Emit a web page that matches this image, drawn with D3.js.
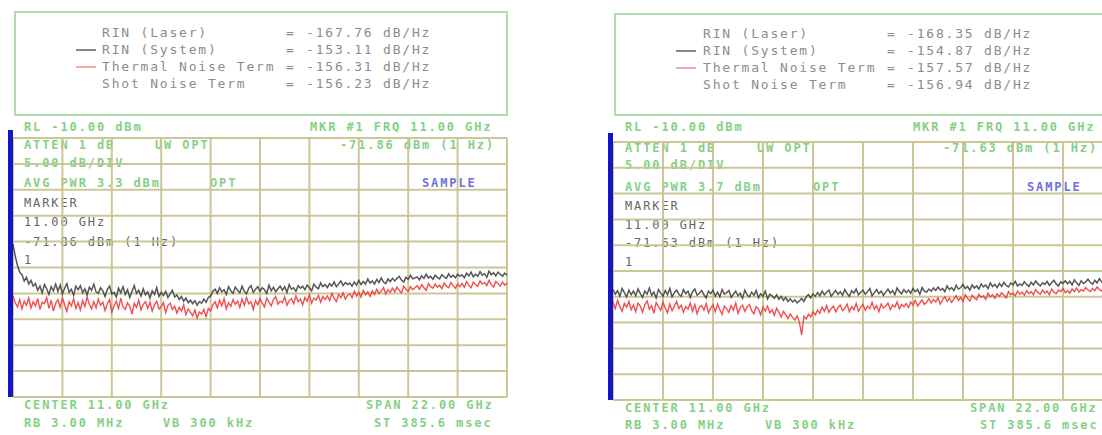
<!DOCTYPE html>
<html><head><meta charset="utf-8">
<script src="https://cdn.jsdelivr.net/npm/d3@7"></script>
<style>
html,body{margin:0;padding:0;background:#fff;}
svg{display:block;}
text{font-family:"DejaVu Sans Mono","Liberation Mono",monospace;}
</style></head>
<body>
<script>
// ---------- DATA ----------
const sweepStartGHz = 0, sweepStepGHz = 0.1;   // 221 sweep points, 0..22 GHz
const refLevel = -10, dbPerDiv = 5, divisions = 10;
const spanGHz = 22;

const legendLabels = ["RIN (Laser)", "RIN (System)", "Thermal Noise Term", "Shot Noise Term"];
const legendValuesA = ["-167.76", "-153.11", "-156.31", "-156.23"];
const legendValuesB = ["-168.35", "-154.87", "-157.57", "-156.94"];
const legendUnit = "dB/Hz";

const headerA = ["RL -10.00 dBm", "MKR #1 FRQ 11.00 GHz", "ATTEN 1 dB", "UW OPT", "-71.86 dBm (1 Hz)", "5.00 dB/DIV", "AVG PWR 3.3 dBm", "OPT", "SAMPLE"];
const headerB = ["RL -10.00 dBm", "MKR #1 FRQ 11.00 GHz", "ATTEN 1 dB", "UW OPT", "-71.63 dBm (1 Hz)", "5.00 dB/DIV", "AVG PWR 3.7 dBm", "OPT", "SAMPLE"];
const markerA = ["MARKER", "11.00 GHz", "-71.86 dBm (1 Hz)", "1"];
const markerB = ["MARKER", "11.00 GHz", "-71.63 dBm (1 Hz)", "1"];
const footer = ["CENTER 11.00 GHz", "SPAN 22.00 GHz", "RB 3.00 MHz", "VB 300 kHz", "ST 385.6 msec"];

// Left panel: system RIN trace (dark) and thermal noise trace (red), dBm
const sysA = [
-30.5,-32.8,-34.6,-35.9,-36.4,-37.6,-36.9,-38.2,-37.5,-38.6,
-38.1,-39.4,-38.6,-39.9,-38.3,-39.1,-40.2,-38.7,-39.5,-38.2,
-39.6,-38.4,-40.1,-39.0,-38.1,-39.8,-39.2,-40.4,-38.6,-39.3,
-38.5,-39.9,-39.1,-40.3,-38.8,-39.4,-38.2,-39.7,-40.0,-38.9,
-39.5,-40.6,-39.2,-38.6,-40.1,-39.8,-40.7,-39.0,-39.9,-38.7,
-40.2,-39.3,-40.8,-39.6,-38.5,-40.0,-39.4,-40.5,-39.1,-40.3,
-39.7,-40.9,-39.5,-40.2,-38.9,-40.6,-39.8,-40.4,-39.6,-40.8,
-40.1,-39.4,-40.7,-40.3,-41.2,-40.6,-41.5,-40.9,-41.8,-41.3,
-42.0,-41.4,-42.3,-41.6,-41.9,-41.1,-41.7,-40.8,-40.5,-39.6,
-39.2,-40.0,-38.9,-39.7,-39.3,-40.2,-38.7,-39.5,-40.0,-38.8,
-39.4,-39.9,-38.6,-39.6,-40.1,-39.0,-38.5,-39.8,-39.2,-38.7,
-39.6,-38.9,-39.3,-40.0,-38.4,-39.5,-38.8,-39.7,-39.1,-38.6,
-39.4,-38.7,-39.8,-38.3,-39.2,-38.9,-39.6,-38.5,-39.0,-38.6,
-39.3,-38.4,-38.9,-39.5,-38.2,-38.8,-39.1,-38.0,-38.7,-38.3,
-38.9,-38.1,-38.6,-37.8,-38.7,-38.2,-37.6,-38.5,-37.9,-38.3,
-38.0,-38.6,-37.8,-38.4,-37.5,-38.3,-37.7,-38.2,-37.2,-38.0,
-37.6,-38.2,-37.3,-37.9,-37.0,-37.8,-38.1,-37.2,-37.7,-37.1,
-37.6,-37.1,-36.7,-37.4,-37.8,-36.9,-37.3,-36.5,-37.2,-37.0,
-36.8,-37.4,-36.6,-37.1,-36.3,-37.0,-36.7,-37.3,-36.5,-36.9,
-37.2,-36.4,-36.8,-37.1,-36.2,-36.9,-36.5,-37.0,-36.3,-36.7,
-36.4,-37.0,-36.1,-36.6,-35.9,-36.8,-36.3,-36.7,-35.8,-36.5,
-36.2,-36.9,-35.7,-36.4,-36.0,-36.6,-35.9,-36.3,-36.7,-36.1,
-36.5];
const thermA = [
-40.5,-41.8,-42.6,-41.2,-43.0,-41.5,-42.3,-40.9,-42.8,-41.6,
-42.4,-41.0,-43.1,-41.7,-42.0,-40.8,-42.9,-41.3,-43.4,-41.9,
-41.2,-42.7,-40.9,-42.2,-43.5,-41.6,-42.4,-41.0,-42.9,-41.8,
-43.2,-41.4,-42.5,-40.7,-42.1,-43.0,-41.6,-42.8,-41.1,-42.3,
-41.7,-43.3,-42.0,-41.2,-43.6,-42.4,-41.5,-42.9,-40.9,-42.6,
-43.1,-41.8,-42.5,-44.0,-41.9,-42.7,-41.3,-43.2,-42.1,-41.6,
-42.9,-41.7,-43.4,-42.2,-41.5,-43.0,-42.6,-41.8,-43.7,-42.3,
-41.9,-43.1,-42.5,-43.8,-42.7,-43.4,-42.2,-44.1,-43.0,-43.6,
-44.3,-43.2,-44.8,-43.6,-44.0,-43.1,-44.5,-42.9,-43.4,-42.2,
-41.6,-42.8,-41.3,-42.4,-41.0,-43.0,-41.8,-42.5,-41.2,-42.1,
-41.5,-42.7,-41.1,-42.3,-40.8,-42.0,-41.6,-43.1,-41.4,-42.2,
-41.0,-41.9,-42.6,-40.9,-41.7,-42.4,-41.2,-40.6,-42.1,-41.5,
-41.8,-40.7,-42.3,-41.4,-41.0,-42.0,-40.5,-41.6,-41.1,-42.2,
-40.8,-41.5,-40.3,-41.9,-40.9,-41.3,-40.4,-41.7,-40.6,-41.2,
-40.5,-41.4,-40.0,-40.9,-41.6,-40.2,-40.8,-39.9,-41.1,-40.4,
-40.1,-40.8,-39.6,-40.5,-39.8,-40.7,-39.4,-40.3,-39.7,-40.6,
-39.5,-40.2,-39.2,-40.0,-39.6,-38.9,-40.1,-39.3,-39.8,-39.0,
-39.7,-38.8,-39.4,-39.9,-38.6,-39.2,-39.6,-38.7,-39.3,-38.9,
-38.5,-39.2,-38.3,-38.9,-39.4,-38.1,-38.7,-39.0,-38.2,-38.8,
-38.4,-39.1,-38.0,-38.6,-38.9,-37.9,-38.5,-39.0,-38.2,-38.7,
-38.1,-38.8,-37.7,-38.4,-38.9,-37.8,-38.3,-38.6,-37.6,-38.2,
-37.9,-38.5,-37.5,-38.3,-38.8,-37.7,-38.1,-38.6,-37.8,-38.4,
-38.0];

// Right panel
const sysB = [
-38.6,-39.5,-38.8,-39.9,-38.4,-39.2,-40.0,-38.7,-39.6,-38.9,
-39.8,-38.5,-39.4,-40.1,-38.9,-39.5,-38.3,-39.7,-39.1,-40.2,
-38.6,-39.3,-39.9,-38.8,-39.6,-38.4,-40.0,-39.2,-38.7,-39.5,
-39.9,-38.6,-39.4,-38.9,-40.1,-39.0,-38.5,-39.7,-39.3,-38.8,
-39.6,-40.2,-38.9,-39.4,-38.7,-39.9,-39.1,-40.0,-38.6,-39.5,
-39.2,-38.8,-40.1,-39.5,-38.9,-39.8,-39.3,-40.3,-38.7,-39.6,
-40.0,-39.1,-39.7,-38.8,-40.2,-39.4,-39.9,-38.9,-40.4,-39.5,
-39.8,-40.3,-39.6,-40.5,-39.9,-40.7,-40.1,-40.9,-40.4,-41.0,
-40.6,-41.2,-40.8,-40.3,-40.9,-40.0,-39.6,-40.2,-39.4,-39.9,
-39.2,-39.8,-38.9,-39.6,-39.1,-38.7,-39.9,-39.3,-38.8,-39.5,
-39.0,-39.7,-38.6,-39.4,-39.9,-38.8,-39.3,-38.5,-39.6,-39.1,
-38.7,-39.5,-39.0,-38.4,-39.8,-39.2,-38.6,-39.4,-38.9,-39.7,
-39.1,-38.5,-39.3,-38.8,-39.6,-38.3,-39.0,-39.4,-38.6,-39.2,
-38.7,-39.3,-38.4,-39.0,-38.6,-39.5,-38.2,-38.9,-39.1,-38.5,
-38.9,-38.3,-38.8,-38.1,-38.7,-38.4,-39.0,-37.9,-38.6,-38.2,
-38.8,-37.8,-38.5,-38.2,-37.6,-38.4,-38.0,-38.7,-37.7,-38.3,
-37.9,-38.5,-37.5,-38.1,-37.7,-38.4,-37.3,-38.0,-37.6,-38.2,
-37.4,-38.0,-37.2,-37.8,-38.1,-37.3,-37.7,-37.0,-37.9,-37.5,
-37.8,-37.1,-37.6,-38.0,-37.2,-37.7,-36.9,-37.5,-37.9,-37.3,
-37.6,-37.0,-37.8,-37.3,-36.8,-37.5,-37.9,-37.1,-37.4,-36.9,
-37.5,-37.0,-37.7,-36.7,-37.3,-37.8,-36.9,-37.4,-37.1,-36.6,
-37.2,-37.6,-36.8,-37.3,-36.5,-37.1,-37.5,-36.7,-37.0,-36.6,
-37.0];
const thermB = [
-41.0,-42.3,-40.7,-41.9,-42.8,-41.3,-42.0,-40.9,-42.5,-41.6,
-42.9,-41.2,-41.8,-43.0,-41.5,-40.8,-42.4,-41.7,-43.2,-41.1,
-41.9,-42.6,-41.0,-42.2,-43.1,-41.4,-42.7,-41.8,-40.9,-42.3,
-41.6,-43.0,-41.9,-42.4,-41.2,-42.8,-41.5,-43.3,-42.0,-41.7,
-42.6,-41.3,-43.1,-42.2,-41.6,-42.9,-41.4,-42.5,-43.4,-41.8,
-42.3,-43.0,-41.7,-42.6,-41.2,-43.2,-42.1,-41.6,-42.8,-42.0,
-41.5,-42.7,-43.3,-41.9,-42.4,-43.5,-42.0,-42.8,-41.8,-43.1,
-42.5,-43.6,-42.2,-43.0,-43.9,-42.8,-43.5,-44.2,-43.3,-44.0,
-44.5,-43.7,-44.9,-47.4,-43.8,-44.3,-43.4,-43.9,-42.9,-43.5,
-42.6,-43.2,-42.0,-42.8,-41.7,-43.0,-42.3,-41.8,-42.9,-42.1,
-41.6,-42.7,-42.2,-41.4,-42.9,-41.9,-42.5,-41.3,-42.8,-42.0,
-41.5,-42.6,-41.8,-42.3,-41.1,-42.4,-41.7,-42.9,-41.4,-42.2,
-41.8,-41.2,-42.5,-41.6,-42.0,-41.0,-42.3,-41.5,-41.9,-41.3,
-42.1,-41.0,-41.6,-40.7,-41.8,-41.2,-40.6,-41.5,-41.0,-40.4,
-41.2,-40.5,-41.0,-40.2,-41.4,-40.6,-40.0,-40.9,-40.3,-41.1,
-40.4,-39.8,-40.7,-40.1,-40.9,-39.6,-40.3,-40.8,-39.7,-40.2,
-40.6,-39.5,-40.1,-39.8,-40.5,-39.3,-40.0,-39.6,-40.3,-39.4,
-39.9,-39.2,-39.7,-40.2,-39.0,-39.6,-39.3,-39.8,-38.9,-39.5,
-39.1,-39.7,-38.8,-39.4,-39.0,-39.6,-38.6,-39.2,-39.5,-38.7,
-39.3,-38.9,-39.6,-38.5,-39.1,-39.4,-38.7,-39.0,-38.4,-39.2,
-38.8,-39.3,-38.5,-39.0,-38.3,-39.1,-38.6,-38.9,-38.2,-38.7,
-39.0,-38.4,-38.8,-38.1,-38.6,-38.9,-38.3,-38.7,-38.0,-38.5,
-38.4];

// ---------- DRAW ----------
const W = 1102, H = 435;
const svg = d3.select("body").append("svg").attr("width", W).attr("height", H);

const C = {
  grid: "#c8c28c", green: "#84d084", gray: "#666666", legendGray: "#8c8c8c",
  box: "#a6d9a6", blue: "#1414c8", sample: "#7070d8", sys: "#383838", therm: "#ee3030"
};

const panels = [
  { gx0: 13, gx1: 507, gy0: 138, gy1: 397, bar: [8, 130],
    box: [15, 12, 492, 103], legX: 102, lineX: 76, legY: 37,
    header: headerA, marker: markerA, legendValues: legendValuesA, sys: sysA, therm: thermA,
    hdrPos: [[24,131],[310,131],[24,149],[155,149],[340,149],[24,167],[24,187],[210,187],[422,187]],
    mkPos: [[24,207],[24,226],[24,246],[24,264]],
    ftPos: [[24,409],[366,409],[24,427],[163,427],[374,427]] },
  { gx0: 613, gx1: 1113, gy0: 142, gy1: 400, bar: [608, 133],
    box: [615, 14, 500, 101], legX: 703, lineX: 676, legY: 38,
    header: headerB, marker: markerB, legendValues: legendValuesB, sys: sysB, therm: thermB,
    hdrPos: [[625,131],[913,131],[625,152],[757,152],[943,152],[625,169],[625,191],[813,191],[1027,191]],
    mkPos: [[625,210],[625,229],[625,247],[625,266]],
    ftPos: [[625,412],[970,412],[625,429],[765,429],[980,429]] }
];

panels.forEach(p => {
  const g = svg.append("g");
  const x = d3.scaleLinear().domain([0, spanGHz]).range([p.gx0, p.gx1]);
  const y = d3.scaleLinear().domain([refLevel - dbPerDiv * divisions, refLevel]).range([p.gy1, p.gy0]);

  // legend box
  g.append("rect").attr("x", p.box[0]).attr("y", p.box[1]).attr("width", p.box[2]).attr("height", p.box[3])
    .attr("fill", "none").attr("stroke", C.box).attr("stroke-width", 1.8);
  legendLabels.forEach((lab, i) => {
    const ty = p.legY + i * 17;
    const st = t => t.attr("font-size", 13).attr("letter-spacing", 1.8).attr("fill", C.legendGray);
    st(g.append("text").attr("x", p.legX).attr("y", ty).text(lab));
    st(g.append("text").attr("x", p.legX + 184).attr("y", ty).text("="));
    st(g.append("text").attr("x", p.legX + 204).attr("y", ty).text(p.legendValues[i] + " " + legendUnit));
  });
  [[1, C.sys], [2, C.therm]].forEach(([i, col]) => {
    g.append("line").attr("x1", p.lineX).attr("x2", p.lineX + 20)
      .attr("y1", p.legY - 4 + i * 17).attr("y2", p.legY - 4 + i * 17)
      .attr("stroke", col).attr("stroke-width", 1.4).attr("opacity", i === 2 ? 0.6 : 0.85);
  });

  // annotation text
  const txt = (s, pos, col) => g.append("text").attr("x", pos[0]).attr("y", pos[1])
    .attr("font-size", 12).attr("font-weight", "bold").attr("letter-spacing", 1.9).attr("fill", col).text(s);
  p.header.forEach((s, i) => txt(s, p.hdrPos[i], i === 8 ? C.sample : C.green));
  p.marker.forEach((s, i) => txt(s, p.mkPos[i], C.gray).attr("font-weight", "normal"));
  footer.forEach((s, i) => txt(s, p.ftPos[i], C.green));

  // grid
  const xt = d3.range(0, divisions + 1).map(i => i * spanGHz / divisions);
  const yt = d3.range(0, divisions + 1).map(i => refLevel - i * dbPerDiv);
  g.selectAll(null).data(xt).join("line")
    .attr("x1", d => x(d)).attr("x2", d => x(d)).attr("y1", p.gy0).attr("y2", p.gy1)
    .attr("stroke", C.grid).attr("stroke-width", 2).attr("opacity", 0.9);
  g.selectAll(null).data(yt).join("line")
    .attr("x1", p.gx0).attr("x2", p.gx1).attr("y1", d => y(d)).attr("y2", d => y(d))
    .attr("stroke", C.grid).attr("stroke-width", 2).attr("opacity", 0.9);

  // traces
  const line = d3.line().x((d, i) => x(sweepStartGHz + i * sweepStepGHz)).y(d => y(d));
  g.append("path").datum(p.sys).attr("d", line).attr("fill", "none")
    .attr("stroke", C.sys).attr("stroke-width", 1.5).attr("opacity", 0.85);
  g.append("path").datum(p.therm).attr("d", line).attr("fill", "none")
    .attr("stroke", C.therm).attr("stroke-width", 1.4).attr("opacity", 0.85);

  // blue left bar
  g.append("rect").attr("x", p.bar[0]).attr("y", p.bar[1]).attr("width", 5).attr("height", p.gy1 - p.bar[1])
    .attr("fill", C.blue);
});
</script>
</body></html>
